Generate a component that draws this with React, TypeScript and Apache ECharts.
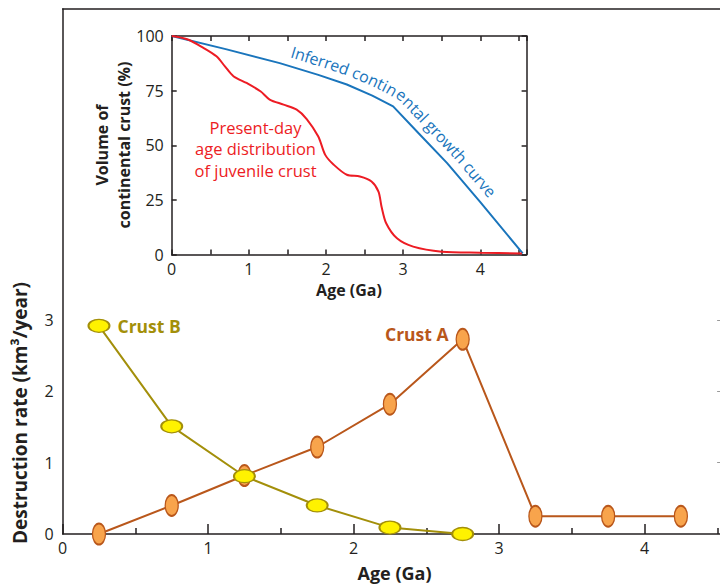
import React, { useEffect, useRef } from "react";
import * as echarts from "echarts";

// ---- Main chart data ----
const crustAAges = [0.25, 0.75, 1.25, 1.75, 2.25, 2.75, 3.25, 3.75, 4.25];
const crustARate = [0, 0.4, 0.82, 1.22, 1.82, 2.73, 0.25, 0.25, 0.25];
const crustBAges = [0.25, 0.75, 1.25, 1.75, 2.25, 2.75];
const crustBRate = [2.92, 1.51, 0.81, 0.4, 0.09, 0.0];
const mainXTicks = [0, 1, 2, 3, 4];
const mainYTicks = [0, 1, 2, 3];

// ---- Inset data ----
const growthAges = [0, 0.7, 1.4, 1.9, 2.27, 2.6, 2.87, 3.2, 3.57, 4.0, 4.55];
const growthVol = [100, 94, 87.6, 82.2, 77.8, 72.7, 67.8, 55.5, 41.8, 24, 0.5];
const juvAges = [0, 0.2, 0.41, 0.58, 0.69, 0.8, 0.97, 1.15, 1.27, 1.45, 1.62, 1.75, 1.9, 1.99, 2.1, 2.27, 2.44, 2.59, 2.68, 2.72, 2.78, 2.92, 3.13, 3.5, 4.0, 4.54];
const juvVol = [100, 98.5, 94.6, 90.7, 86.1, 81.6, 78.5, 74.7, 70.9, 68.6, 66.3, 62, 54, 45.6, 41.1, 36.5, 35.7, 33.4, 28.8, 21.9, 14.3, 7.4, 3.6, 1.3, 0.8, 0.5];
const insetXTicks = [0, 1, 2, 3, 4];

const FONT = "'Open Sans', 'Noto Sans', sans-serif";
const DARK = "#231f20";
const BLUE = "#1a75bc";
const RED = "#ed1c24";
const A_LINE = "#b9571b";
const A_FILL = "#f8a44c";
const B_LINE = "#a38f0a";
const B_FILL = "#fff200";
const ELLIPSE =
  "path://M1,0C1.552,0,2,0.448,2,1C2,1.552,1.552,2,1,2C0.448,2,0,1.552,0,1C0,0.448,0.448,0,1,0Z";

// the chart canvas is wider than the visible page so that the main x axis runs to 5 off-screen
const CANVAS_W = 793.1;
const CANVAS_H = 584;

function curvedText(
  pts: number[][],
  text: string,
  fontSize: number,
  startX: number,
  endX: number,
  offset: number,
  color: string
) {
  const cum = [0];
  for (let i = 1; i < pts.length; i++)
    cum.push(cum[i - 1] + Math.hypot(pts[i][0] - pts[i - 1][0], pts[i][1] - pts[i - 1][1]));
  const total = cum[cum.length - 1];
  const at = (s: number) => {
    s = Math.max(0, Math.min(total, s));
    let i = 1;
    while (i < pts.length - 1 && cum[i] < s) i++;
    const d = cum[i] - cum[i - 1] || 1;
    const t = (s - cum[i - 1]) / d;
    return [
      pts[i - 1][0] + t * (pts[i][0] - pts[i - 1][0]),
      pts[i - 1][1] + t * (pts[i][1] - pts[i - 1][1]),
    ];
  };
  const sAtX = (x: number) => {
    for (let i = 1; i < pts.length; i++) {
      if (pts[i][0] >= x) {
        const t = (x - pts[i - 1][0]) / (pts[i][0] - pts[i - 1][0] || 1);
        return cum[i - 1] + t * (cum[i] - cum[i - 1]);
      }
    }
    return total;
  };
  const s0 = sAtX(startX);
  const s1 = sAtX(endX);
  const ctx = document.createElement("canvas").getContext("2d")!;
  ctx.font = `${fontSize}px ${FONT}`;
  const chars = Array.from(text);
  const widths = chars.map((c) => ctx.measureText(c).width);
  const natural = widths.reduce((a, b) => a + b, 0);
  const scale = (s1 - s0) / natural;
  let s = s0;
  const els: any[] = [];
  chars.forEach((c, i) => {
    const w = widths[i] * scale;
    const sc = s + w / 2;
    s += w;
    if (c === " ") return;
    const p = at(sc);
    const a = at(sc - 14);
    const b = at(sc + 14);
    let tx = b[0] - a[0];
    let ty = b[1] - a[1];
    const n = Math.hypot(tx, ty) || 1;
    tx /= n;
    ty /= n;
    const nx = ty;
    const ny = -tx;
    els.push({
      type: "text",
      x: p[0] + nx * offset,
      y: p[1] + ny * offset,
      rotation: -Math.atan2(ty, tx),
      z: 100,
      style: {
        text: c,
        fill: color,
        fontSize,
        fontFamily: FONT,
        align: "center",
        textAlign: "center",
        verticalAlign: "middle",
        textVerticalAlign: "middle",
      },
    });
  });
  return els;
}

export default function App() {
  const ref = useRef<HTMLDivElement>(null);
  useEffect(() => {
    const chart = echarts.init(ref.current!, null, { renderer: "svg" });
    const axisLine = { show: true, onZero: false, lineStyle: { color: DARK, width: 1.5 } };
    const tickStyle = { color: DARK, width: 1.5 };
    const labelBase = { color: DARK, fontSize: 16, fontFamily: FONT };

    const peakA = crustARate.indexOf(Math.max(...crustARate));
    const dataA = crustAAges.map((x, i) =>
      i === peakA
        ? {
            value: [x, crustARate[i]],
            label: {
              show: true,
              position: "left",
              distance: 7,
              offset: [0, -5],
              formatter: "Crust A",
              color: A_LINE,
              fontSize: 17.5,
              fontWeight: "bold",
              fontFamily: FONT,
            },
          }
        : [x, crustARate[i]]
    );
    const dataB = crustBAges.map((x, i) =>
      i === 0
        ? {
            value: [x, crustBRate[i]],
            label: {
              show: true,
              position: "right",
              distance: 7,
              formatter: "Crust B",
              color: B_LINE,
              fontSize: 17.5,
              fontWeight: "bold",
              fontFamily: FONT,
            },
          }
        : [x, crustBRate[i]]
    );

    const option: any = {
      animation: false,
      textStyle: { fontFamily: FONT },
      grid: [
        { left: 62.6, top: 9, right: 0, bottom: 50 },
        {
          left: 171.7,
          top: 36,
          right: CANVAS_W - 526.7,
          bottom: CANVAS_H - 254.5,
          show: true,
          backgroundColor: "#fff",
          borderWidth: 0,
        },
        { left: 700, top: 9, right: CANVAS_W - 720.2, bottom: 50 },
      ],
      xAxis: [
        {
          gridIndex: 0,
          type: "value",
          min: 0,
          max: 5,
          interval: 1,
          position: "bottom",
          axisLine,
          axisTick: { show: true, inside: true, length: 10, lineStyle: tickStyle },
          minorTick: { show: true, splitNumber: 2, length: 6, lineStyle: tickStyle },
          axisLabel: {
            ...labelBase,
            margin: 6,
            formatter: (v: number) => (mainXTicks.includes(v) ? String(v) : ""),
          },
          splitLine: { show: false },
          minorSplitLine: { show: false },
        },
        {
          gridIndex: 0,
          type: "value",
          min: 0,
          max: 5,
          position: "top",
          axisLine,
          axisTick: { show: false },
          axisLabel: { show: false },
          splitLine: { show: false },
        },
        {
          gridIndex: 1,
          type: "value",
          min: 0,
          max: 4.6,
          interval: 0.5,
          position: "bottom",
          axisLine,
          axisTick: { show: true, inside: true, length: 5, lineStyle: tickStyle },
          axisLabel: {
            ...labelBase,
            margin: 6,
            formatter: (v: number) => (insetXTicks.includes(v) ? String(v) : ""),
          },
          splitLine: { show: false },
        },
        {
          gridIndex: 1,
          type: "value",
          min: 0,
          max: 4.6,
          interval: 0.5,
          position: "top",
          axisLine,
          axisTick: { show: true, inside: true, length: 5, lineStyle: tickStyle },
          axisLabel: { show: false },
          splitLine: { show: false },
        },
        {
          gridIndex: 2,
          type: "value",
          min: 0,
          max: 1,
          show: false,
          axisLine: { show: false, onZero: false },
        },
      ],
      yAxis: [
        {
          gridIndex: 0,
          type: "value",
          min: 0,
          max: 7.363,
          interval: 1,
          position: "left",
          axisLine,
          axisTick: { show: false },
          axisLabel: {
            ...labelBase,
            margin: 9,
            formatter: (v: number) => (mainYTicks.includes(v) ? String(v) : ""),
          },
          splitLine: { show: false },
        },
        {
          gridIndex: 1,
          type: "value",
          min: 0,
          max: 100,
          interval: 25,
          position: "left",
          axisLine,
          axisTick: { show: true, inside: true, length: 5, lineStyle: tickStyle },
          axisLabel: { ...labelBase, margin: 8 },
          splitLine: { show: false },
        },
        {
          gridIndex: 1,
          type: "value",
          min: 0,
          max: 100,
          interval: 25,
          position: "right",
          axisLine,
          axisTick: { show: true, inside: true, length: 5, lineStyle: tickStyle },
          axisLabel: { show: false },
          splitLine: { show: false },
        },
        {
          gridIndex: 2,
          type: "value",
          min: 0,
          max: 7.363,
          interval: 1,
          position: "right",
          axisLine: { show: false, onZero: false },
          axisTick: {
            show: true,
            inside: true,
            length: 3,
            customValues: mainYTicks.filter((v) => v > 0),
            lineStyle: { color: "#9a9a9a", width: 1 },
          },
          axisLabel: { show: false },
          splitLine: { show: false },
        },
      ],
      series: [
        {
          name: "Crust A",
          type: "line",
          xAxisIndex: 0,
          yAxisIndex: 0,
          data: dataA,
          symbol: ELLIPSE,
          symbolSize: [13, 21],
          lineStyle: { color: A_LINE, width: 2 },
          itemStyle: { color: A_FILL, borderColor: A_LINE, borderWidth: 1.6 },
          z: 3,
        },
        {
          name: "Crust B",
          type: "line",
          xAxisIndex: 0,
          yAxisIndex: 0,
          data: dataB,
          symbol: ELLIPSE,
          symbolSize: [21, 13],
          lineStyle: { color: B_LINE, width: 2 },
          itemStyle: { color: B_FILL, borderColor: B_LINE, borderWidth: 1.6 },
          z: 4,
        },
        {
          name: "growth",
          type: "line",
          xAxisIndex: 2,
          yAxisIndex: 1,
          data: growthAges.map((x, i) => [x, growthVol[i]]),
          symbol: "none",
          lineStyle: { color: BLUE, width: 2 },
          z: 5,
        },
        {
          name: "juvenile",
          type: "line",
          xAxisIndex: 2,
          yAxisIndex: 1,
          data: juvAges.map((x, i) => [x, juvVol[i]]),
          symbol: "none",
          smooth: 0.3,
          lineStyle: { color: RED, width: 2 },
          z: 5,
        },
      ],
    };
    chart.setOption(option);

    const growthPx = growthAges.map(
      (x, i) => chart.convertToPixel({ gridIndex: 1 }, [x, growthVol[i]]) as number[]
    );
    const startX = chart.convertToPixel({ gridIndex: 1 }, [1.5, 0]) as number[];
    const endX = chart.convertToPixel({ gridIndex: 1 }, [4.02, 0]) as number[];
    const curved = curvedText(
      growthPx,
      "Inferred continental growth curve",
      16,
      startX[0],
      endX[0],
      14.5,
      BLUE
    );

    const txt = (x: number, y: number, text: string, size: number, opts: any = {}) => ({
      type: "text",
      x,
      y,
      rotation: opts.rotation || 0,
      z: 100,
      style: {
        text,
        fill: opts.color || DARK,
        fontSize: size,
        fontWeight: opts.weight || "bold",
        fontFamily: FONT,
        lineHeight: opts.lineHeight,
        align: "center",
        textAlign: "center",
        verticalAlign: opts.va || "middle",
        textVerticalAlign: opts.va || "middle",
      },
    });

    chart.setOption({
      graphic: [
        txt(20, 413, "Destruction rate (km³/year)", 19, { rotation: Math.PI / 2 }),
        txt(394.5, 573, "Age (Ga)", 18),
        txt(349, 290, "Age (Ga)", 16),
        txt(113, 145, "Volume of\ncontinental crust (%)", 16, {
          rotation: Math.PI / 2,
          lineHeight: 22,
        }),
        txt(255.5, 116.5, "Present-day\nage distribution\nof juvenile crust", 16.5, {
          color: RED,
          weight: "normal",
          lineHeight: 21.5,
          va: "top",
        }),
        ...curved,
      ],
    });

    return () => chart.dispose();
  }, []);

  return (
    <div
      style={{
        position: "absolute",
        left: 0,
        top: 0,
        width: 720,
        height: 584,
        overflow: "hidden",
        background: "#fff",
      }}
    >
      <div ref={ref} style={{ width: CANVAS_W, height: CANVAS_H }} />
    </div>
  );
}
